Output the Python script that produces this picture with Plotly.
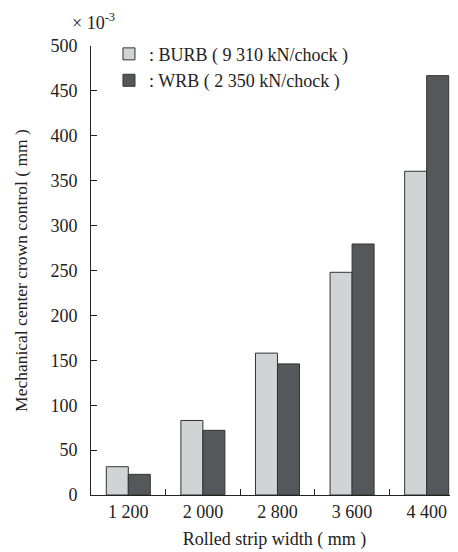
import plotly.graph_objects as go

categories = ["1 200", "2 000", "2 800", "3 600", "4 400"]
burb = [31.5, 83, 158, 248, 360.5]
wrb = [23, 72, 146, 279.5, 467]
y_ticks = [0, 50, 100, 150, 200, 250, 300, 350, 400, 450, 500]

FONT = "Liberation Serif"

fig = go.Figure()
fig.add_trace(go.Bar(x=categories, y=burb, name=": BURB ( 9 310 kN/chock )",
                     marker=dict(color="#d2d3d5", line=dict(color="#333333", width=1))))
fig.add_trace(go.Bar(x=categories, y=wrb, name=": WRB ( 2 350 kN/chock )",
                     marker=dict(color="#55575a", line=dict(color="#333333", width=1))))

# page body has an 8px default margin, so the figure is sized 8px smaller
fig.update_layout(
    width=450, height=544,
    margin=dict(l=83, r=0, t=37.5, b=56.5, autoexpand=False),
    plot_bgcolor="white", paper_bgcolor="white",
    font=dict(family=FONT, size=17, color="#222222"),
    barmode="group", bargap=0.41, bargroupgap=0,
    showlegend=True,
    legend=dict(x=0.049, y=1.023, xanchor="left", yanchor="top",
                bgcolor="rgba(0,0,0,0)", font=dict(family=FONT, size=18),
                tracegroupgap=2, itemwidth=30),
    xaxis=dict(type="category", range=[-0.5, 4.42], showline=True, linecolor="#222222",
               linewidth=1, ticks="inside", tickson="boundaries", ticklen=6,
               tickcolor="#222222", showgrid=False, automargin=False,
               tickfont=dict(family=FONT, size=18),
               title=dict(text="Rolled strip width ( mm )", standoff=11,
                          font=dict(family=FONT, size=18))),
    yaxis=dict(range=[0, 500], tickvals=y_ticks, showline=True, linecolor="#222222",
               linewidth=1, ticks="inside", ticklen=6, tickcolor="#222222",
               showgrid=False, zeroline=False, ticklabelstandoff=9, automargin=False,
               tickfont=dict(family=FONT, size=18),
               title=dict(text="Mechanical center crown control ( mm )", standoff=18,
                          font=dict(family=FONT, size=17.5))),
    annotations=[dict(text="× 10<sup>-3</sup>", xref="paper", yref="paper",
                      x=-0.057, y=1.0, yshift=11, xanchor="left", yanchor="bottom",
                      showarrow=False, font=dict(family=FONT, size=18))],
)

fig.write_html("out.html")
